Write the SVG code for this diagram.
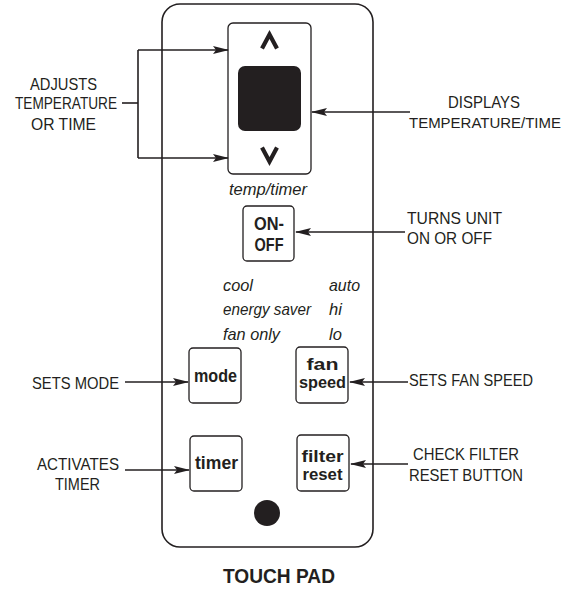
<svg xmlns="http://www.w3.org/2000/svg" width="570" height="589" viewBox="0 0 570 589">
<style>
.lbl{font-family:"Liberation Sans",Arial,sans-serif;font-size:17px;fill:#231f20}
.btn{font-family:"Liberation Sans",Arial,sans-serif;font-size:18px;font-weight:bold;fill:#231f20;text-anchor:middle}
.b2{font-size:16px}
.it{font-family:"Liberation Sans",Arial,sans-serif;font-size:16.5px;font-style:italic;fill:#231f20}
.box{fill:#fff;stroke:#231f20;stroke-width:1.3}
.con{fill:none;stroke:#231f20;stroke-width:1.6}
.chev{fill:none;stroke:#231f20;stroke-width:4.2;stroke-linejoin:miter}
</style>
<defs>
<marker id="ah" viewBox="0 0 16 8" refX="15" refY="4" markerWidth="16" markerHeight="8" markerUnits="userSpaceOnUse" orient="auto">
<path d="M0,0 L16,4 L0,8 L3,4 z" fill="#231f20"/>
</marker>
</defs>
<rect width="570" height="589" fill="#fff"/>
<g id="panel">
<rect x="162" y="4" width="211" height="543" rx="18" fill="#fff" stroke="#231f20" stroke-width="1.6"/>
</g>
<g id="display">
<rect class="box" x="228" y="23" width="83" height="151" rx="5"/>
<rect x="238" y="66" width="63" height="65" rx="7" fill="#231f20"/>
<polyline class="chev" points="262,48.5 269.5,34.5 277,48.5"/>
<polyline class="chev" points="262,147.5 269.5,161.5 277,147.5"/>
<text class="it" x="268" y="195" text-anchor="middle" textLength="78" lengthAdjust="spacingAndGlyphs">temp/timer</text>
</g>
<g id="onoff">
<rect class="box" x="243" y="206" width="51" height="55" rx="4"/>
<text class="btn" x="269" y="229.5" textLength="30" lengthAdjust="spacingAndGlyphs">ON-</text>
<text class="btn" x="269" y="250.5" textLength="29" lengthAdjust="spacingAndGlyphs">OFF</text>
</g>
<g id="modes">
<text class="it" x="223" y="291" textLength="30" lengthAdjust="spacingAndGlyphs">cool</text>
<text class="it" x="223" y="315" textLength="88" lengthAdjust="spacingAndGlyphs">energy saver</text>
<text class="it" x="223" y="340" textLength="57" lengthAdjust="spacingAndGlyphs">fan only</text>
<text class="it" x="329" y="291" textLength="31" lengthAdjust="spacingAndGlyphs">auto</text>
<text class="it" x="329" y="315">hi</text>
<text class="it" x="329" y="340">lo</text>
</g>
<g id="mode">
<rect class="box" x="189" y="348" width="52" height="55" rx="4"/>
<text class="btn" x="215.5" y="382" textLength="43" lengthAdjust="spacingAndGlyphs">mode</text>
</g>
<g id="fanspeed">
<rect class="box" x="296" y="347" width="52" height="56" rx="4"/>
<text class="btn b2" x="322.5" y="370" textLength="32" lengthAdjust="spacingAndGlyphs">fan</text>
<text class="btn b2" x="322.5" y="388" textLength="47" lengthAdjust="spacingAndGlyphs">speed</text>
</g>
<g id="timer">
<rect class="box" x="190" y="436" width="52" height="55" rx="4"/>
<text class="btn" x="216.5" y="469" textLength="43" lengthAdjust="spacingAndGlyphs">timer</text>
</g>
<g id="filterreset">
<rect class="box" x="297" y="435" width="52" height="56" rx="4"/>
<text class="btn b2" x="322.5" y="462" textLength="42" lengthAdjust="spacingAndGlyphs">filter</text>
<text class="btn b2" x="322.5" y="480" textLength="40" lengthAdjust="spacingAndGlyphs">reset</text>
</g>
<g id="indicator">
<circle cx="267" cy="513" r="13" fill="#231f20"/>
</g>
<g id="connectors">
<polyline class="con" points="122,103 138,103"/>
<polyline class="con" points="138,50 138,158"/>
<line class="con" x1="138" y1="50" x2="228" y2="50" marker-end="url(#ah)"/>
<line class="con" x1="138" y1="158" x2="228" y2="158" marker-end="url(#ah)"/>
<line class="con" x1="410" y1="112" x2="312" y2="112" marker-end="url(#ah)"/>
<line class="con" x1="405" y1="232" x2="296" y2="232" marker-end="url(#ah)"/>
<line class="con" x1="125" y1="382" x2="188" y2="382" marker-end="url(#ah)"/>
<line class="con" x1="125" y1="470" x2="189" y2="470" marker-end="url(#ah)"/>
<line class="con" x1="408" y1="382" x2="350" y2="382" marker-end="url(#ah)"/>
<line class="con" x1="408" y1="464" x2="351" y2="464" marker-end="url(#ah)"/>
</g>
<g id="labels">
<text class="lbl" x="63.5" y="90" text-anchor="middle" textLength="67" lengthAdjust="spacingAndGlyphs">ADJUSTS</text>
<text class="lbl" x="66" y="109" text-anchor="middle" textLength="102" lengthAdjust="spacingAndGlyphs">TEMPERATURE</text>
<text class="lbl" x="63.5" y="130" text-anchor="middle" textLength="65" lengthAdjust="spacingAndGlyphs">OR TIME</text>
<text class="lbl" x="484" y="108" text-anchor="middle" textLength="72" lengthAdjust="spacingAndGlyphs">DISPLAYS</text>
<text class="lbl" x="409" y="128" style="font-size:15px" textLength="152" lengthAdjust="spacingAndGlyphs">TEMPERATURE/TIME</text>
<text class="lbl" x="407" y="224" textLength="95" lengthAdjust="spacingAndGlyphs">TURNS UNIT</text>
<text class="lbl" x="407" y="244" textLength="85" lengthAdjust="spacingAndGlyphs">ON OR OFF</text>
<text class="lbl" x="32" y="389" textLength="87" lengthAdjust="spacingAndGlyphs">SETS MODE</text>
<text class="lbl" x="78" y="470" text-anchor="middle" textLength="82" lengthAdjust="spacingAndGlyphs">ACTIVATES</text>
<text class="lbl" x="77.5" y="490" text-anchor="middle" textLength="45" lengthAdjust="spacingAndGlyphs">TIMER</text>
<text class="lbl" x="409" y="386" textLength="124" lengthAdjust="spacingAndGlyphs">SETS FAN SPEED</text>
<text class="lbl" x="466" y="460" text-anchor="middle" textLength="106" lengthAdjust="spacingAndGlyphs">CHECK FILTER</text>
<text class="lbl" x="466" y="481" text-anchor="middle" textLength="114" lengthAdjust="spacingAndGlyphs">RESET BUTTON</text>
<text class="btn" x="279" y="583" style="font-size:19.5px" textLength="112" lengthAdjust="spacingAndGlyphs">TOUCH PAD</text>
</g>
</svg>
